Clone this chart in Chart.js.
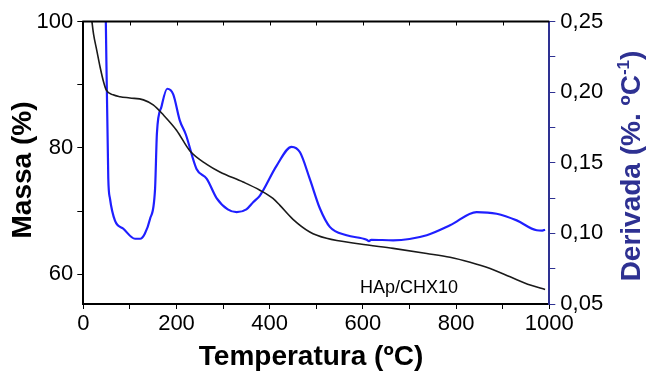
<!DOCTYPE html>
<html>
<head>
<meta charset="utf-8">
<script src="https://cdn.jsdelivr.net/npm/chart.js@4.4.1/dist/chart.umd.min.js"></script>
<style>
  body { margin: 0; background: #fff; }
</style>
</head>
<body>
<canvas id="myChart" width="647" height="371"></canvas>
<script>
// massa (TG) - eixo esquerdo
const tempMassa = [18, 22, 29, 36, 44, 49, 64, 79, 100, 129, 150, 172, 200, 229, 265, 293, 343, 379, 407, 422, 450, 486, 522, 594, 665, 737, 787, 830, 873, 916, 959, 991];
const massa = [100.3, 98.0, 95.4, 92.8, 90.3, 89.2, 88.4, 88.1, 87.9, 87.6, 86.8, 85.2, 82.8, 79.5, 77.4, 76.2, 74.6, 73.3, 72.0, 70.9, 68.7, 66.7, 65.7, 64.8, 64.1, 63.3, 62.7, 61.9, 60.9, 59.6, 58.3, 57.6];

// derivada (DTG) - eixo direito
const tempDeriv = [47.5, 53.6, 57.3, 68, 86, 111, 122, 132, 143, 154, 158, 168, 180, 193, 207, 220, 243, 265, 286, 310, 329, 350, 365, 379, 415, 447, 465, 486, 508, 529, 565, 608, 613, 618, 665, 737, 787, 844, 887, 930, 973, 985, 991];
const derivada = [0.27, 0.139, 0.1245, 0.109, 0.1033, 0.0962, 0.0962, 0.0998, 0.110, 0.1315, 0.171, 0.190, 0.2024, 0.1984, 0.180, 0.170, 0.1456, 0.1386, 0.125, 0.117, 0.1151, 0.117, 0.1222, 0.1268, 0.148, 0.1613, 0.1574, 0.1386, 0.1174, 0.1046, 0.0987, 0.0955, 0.0945, 0.0955, 0.0951, 0.0987, 0.1057, 0.1151, 0.1139, 0.1092, 0.1022, 0.1020, 0.1026];

const fonte = "'Liberation Sans', Arial, sans-serif";
const azulEixo = '#2e3192';

const ptsMassa = tempMassa.map((t, i) => ({x: t, y: massa[i]}));
const ptsDeriv = tempDeriv.map((t, i) => ({x: t, y: derivada[i]}));

// borda superior, titulos e rotulo da amostra
const extras = {
    id: 'extras',
    afterDraw(chart) {
        const c = chart.ctx;
        const a = chart.chartArea;
        const x = chart.scales.x;
        c.save();
        c.fillStyle = '#000';
        c.fillRect(a.left - 1, a.top - 1, a.right - a.left + 1, 2);
        for (let v = 100; v < 1000; v += 100) {
            c.fillRect(Math.round(x.getPixelForValue(v)), a.top, 1, 4);
        }

        c.textBaseline = 'middle';
        c.textAlign = 'center';
        c.font = 'bold 28px ' + fonte;
        c.fillText('Temperatura (ºC)', 311, 357);

        c.save();
        c.translate(23, 170);
        c.rotate(-Math.PI / 2);
        c.fillText('Massa (%)', 0, 0);
        c.restore();

        // titulo direito com sobrescrito
        c.save();
        c.translate(632, 166);
        c.rotate(-Math.PI / 2);
        c.fillStyle = azulEixo;
        c.textAlign = 'left';
        const p1 = 'Derivada (%. ºC', sup = '-1', p2 = ')';
        const fBig = 'bold 28px ' + fonte, fSmall = 'bold 17px ' + fonte;
        c.font = fBig; const w1 = c.measureText(p1).width, w3 = c.measureText(p2).width;
        c.font = fSmall; const w2 = c.measureText(sup).width;
        let sx = -(w1 + w2 + w3) / 2;
        c.font = fBig; c.fillText(p1, sx, 0); sx += w1;
        c.font = fSmall; c.fillText(sup, sx, -8); sx += w2;
        c.font = fBig; c.fillText(p2, sx, 0);
        c.restore();

        c.font = '18px ' + fonte;
        c.textAlign = 'left';
        c.textBaseline = 'alphabetic';
        c.fillText('HAp/CHX10', 360, 293);
        c.restore();
    }
};

const ctx = document.getElementById('myChart').getContext('2d');
const myChart = new Chart(ctx, {
    type: 'line',
    data: {
        datasets: [{
            label: 'Massa',
            data: ptsMassa,
            yAxisID: 'y',
            borderColor: '#1a1a1a',
            borderWidth: 1.6,
            pointRadius: 0,
            cubicInterpolationMode: 'monotone'
        }, {
            label: 'Derivada',
            data: ptsDeriv,
            yAxisID: 'y2',
            borderColor: '#1f1fff',
            borderWidth: 2.2,
            pointRadius: 0,
            cubicInterpolationMode: 'monotone'
        }]
    },
    options: {
        responsive: false,
        animation: false,
        devicePixelRatio: 1,
        layout: { padding: { top: 21.5, left: 0, right: 0, bottom: 0 } },
        plugins: { legend: { display: false }, tooltip: { enabled: false } },
        scales: {
            x: {
                type: 'linear',
                min: 0,
                max: 1000,
                afterFit: (s) => { s.height = 67; },
                border: { color: '#000', width: 2 },
                grid: { drawOnChartArea: false, tickLength: 5, color: '#000' },
                ticks: {
                    stepSize: 100,
                    autoSkip: false,
                    maxRotation: 0,
                    padding: 2,
                    color: '#000',
                    font: { family: fonte, size: 22 },
                    callback: (v) => v % 200 === 0 ? v : ''
                }
            },
            y: {
                position: 'left',
                min: 55.3,
                max: 100,
                afterFit: (s) => { s.width = 83.3; },
                border: { color: '#000', width: 2 },
                grid: { drawOnChartArea: false, tickLength: 6, color: '#000' },
                ticks: {
                    stepSize: 10,
                    includeBounds: false,
                    padding: 4,
                    color: '#000',
                    font: { family: fonte, size: 22 },
                    callback: (v) => v % 20 === 0 ? v : ''
                }
            },
            y2: {
                position: 'right',
                min: 0.05,
                max: 0.25,
                afterFit: (s) => { s.width = 97.7; },
                border: { color: azulEixo, width: 2 },
                grid: { drawOnChartArea: false, tickLength: 6, color: azulEixo },
                ticks: {
                    stepSize: 0.025,
                    padding: 5,
                    color: '#000',
                    font: { family: fonte, size: 22 },
                    callback: (v) => {
                        const k = v / 0.05;
                        return Math.abs(k - Math.round(k)) < 1e-6 ? v.toFixed(2).replace('.', ',') : '';
                    }
                }
            }
        }
    },
    plugins: [extras]
});
</script>
</body>
</html>
